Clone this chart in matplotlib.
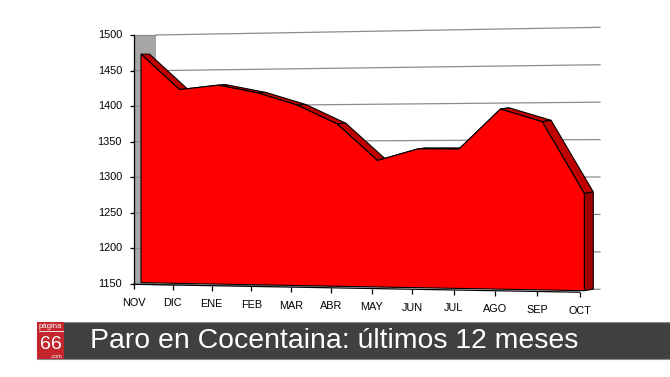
"""
plot.py

Monthly unemployment in Cocentaina over the last 12 months, drawn as an
Excel-style 3D area chart with a title banner underneath.
"""
import numpy as np
import matplotlib
matplotlib.use("Agg")
import matplotlib.pyplot as plt
import matplotlib.transforms as mtransforms
from matplotlib.patches import Polygon, Rectangle

MONTHS = ['NOV', 'DIC', 'ENE', 'FEB', 'MAR', 'ABR', 'MAY', 'JUN', 'JUL', 'AGO', 'SEP', 'OCT']
PARO = [1471, 1421, 1427, 1416, 1399, 1373, 1323, 1339, 1339, 1393, 1376, 1280]
Y_TICKS = [1150, 1200, 1250, 1300, 1350, 1400, 1450, 1500]
TITLE = "Paro en Cocentaina: últimos 12 meses"

Y_MIN, Y_MAX = Y_TICKS[0], Y_TICKS[-1]
N_LAST = len(MONTHS) - 1

# plane corners in pixels: bottom-left, bottom-right, top-left, top-right
FRONT_PLANE = [(141, 282.7), (584.3, 290.7), (141, 33.5), (584.3, 28.9)]
DEPTH = [(8.5, 0.0), (9.0, -1.5), (8.5, 0.0), (9.0, -1.5)]
WALL_PLANE = [(156, 284.5), (600, 289.3), (156, 35), (600, 27.3)]
SIDE_PLANE = [(134, 284), (156, 284.5), (134, 35), (156, 35)]
AXIS_PLANE = [(134, 284.3), (579.5, 292.2), (134, 35.1), (579.5, 30.4)]

FONT = ['Liberation Sans', 'DejaVu Sans']
RED = '#ff0000'
SHELF = '#c00000'
SIDE = '#a00000'


def fit_homography(src, dst):
    """Solve the 3x3 projective matrix mapping 4 src points onto 4 dst points."""
    A, b = [], []
    for (x, y), (u, v) in zip(src, dst):
        A.append([x, y, 1, 0, 0, 0, -u * x, -u * y])
        b.append(u)
        A.append([0, 0, 0, x, y, 1, -v * x, -v * y])
        b.append(v)
    h = np.linalg.solve(np.array(A, float), np.array(b, float))
    return np.append(h, 1.0).reshape(3, 3)


class PlaneTransform(mtransforms.Transform):
    """Perspective mapping of (category, value) onto a plane in pixel space."""
    input_dims = 2
    output_dims = 2

    def __init__(self, H):
        super().__init__()
        self.H = H

    def transform_non_affine(self, values):
        values = np.asarray(values, float)
        p = np.column_stack([values, np.ones(len(values))]) @ self.H.T
        return p[:, :2] / p[:, 2:]


def plane(ax, corners, x_span):
    src = [(0, Y_MIN), (x_span, Y_MIN), (0, Y_MAX), (x_span, Y_MAX)]
    return PlaneTransform(fit_homography(src, corners)) + ax.transData


def draw_walls(ax):
    side_tr = plane(ax, SIDE_PLANE, 1)
    wall_tr = plane(ax, WALL_PLANE, 1)
    ax.add_patch(Polygon([(0, Y_MIN), (1, Y_MIN), (1, Y_MAX), (0, Y_MAX)], closed=True,
                         facecolor='#a6a6a6', edgecolor='none', transform=side_tr,
                         zorder=0.5))
    for v in Y_TICKS:
        ax.plot([0, 1], [v, v], color='#8c8c8c', lw=0.9, transform=side_tr, zorder=0.6)
        ax.plot([0, 1], [v, v], color='#8c8c8c', lw=0.9, transform=wall_tr, zorder=0.6)


def draw_area(ax):
    front_tr = plane(ax, FRONT_PLANE, N_LAST)
    back_corners = [(x + dx, y + dy) for (x, y), (dx, dy) in zip(FRONT_PLANE, DEPTH)]
    back_tr = plane(ax, back_corners, N_LAST)
    idx = np.arange(len(PARO))

    # top surface strips, one per segment, then the right-hand side face
    for i in range(N_LAST):
        seg_x = [idx[i], idx[i + 1]]
        seg_y = [PARO[i], PARO[i + 1]]
        fr = front_tr.transform(np.column_stack([seg_x, seg_y]))
        bk = back_tr.transform(np.column_stack([seg_x, seg_y]))
        quad = np.vstack([fr, bk[::-1]])
        ax.add_patch(Polygon(quad, closed=True, facecolor=SHELF, edgecolor='black',
                             lw=0.8, transform=None, zorder=1))
    side_pts = np.column_stack([[N_LAST, N_LAST], [Y_MIN, PARO[-1]]])
    quad = np.vstack([front_tr.transform(side_pts), back_tr.transform(side_pts)[::-1]])
    ax.add_patch(Polygon(quad, closed=True, facecolor=SIDE, edgecolor='black',
                         lw=0.8, transform=None, zorder=1))

    verts = [(0, Y_MIN)] + list(zip(idx, PARO)) + [(N_LAST, Y_MIN)]
    ax.add_patch(Polygon(verts, closed=True, facecolor=RED, edgecolor='black',
                         lw=0.8, transform=front_tr, zorder=1.2))


def draw_axes(ax, fig):
    side_tr = plane(ax, SIDE_PLANE, 1)
    axis_tr = plane(ax, AXIS_PLANE, N_LAST)
    idx = np.arange(len(MONTHS))

    ax.plot([0, 0], [Y_MIN, Y_MAX], color='black', lw=0.9, transform=side_tr)
    ax.plot(np.zeros(len(Y_TICKS)), Y_TICKS, ls='none', marker=0, ms=2.6,
            mew=0.9, color='black', transform=side_tr)
    left = mtransforms.ScaledTranslation(-0.12, 0, fig.dpi_scale_trans)
    for v in Y_TICKS:
        ax.text(0, v, str(v), ha='right', va='center', fontsize=7.8,
                family=FONT, transform=side_tr + left)

    ax.plot([0, N_LAST], [Y_MIN, Y_MIN], color='black', lw=0.9, transform=axis_tr)
    ax.plot(idx, [Y_MIN] * len(idx), ls='none', marker=3, ms=3.8, mew=0.9,
            color='black', transform=axis_tr)
    down = mtransforms.ScaledTranslation(0, -0.185, fig.dpi_scale_trans)
    for i, m in zip(idx, MONTHS):
        ax.text(i, Y_MIN, m, ha='center', va='center', fontsize=7.8,
                family=FONT, transform=axis_tr + down)


def draw_banner(ax):
    ax.add_patch(Rectangle((37, 322), 640, 37, facecolor='#404040',
                           edgecolor='#8c8c8c', lw=0.8))
    ax.add_patch(Rectangle((37, 322), 27, 37, facecolor='#c4262e', edgecolor='none'))
    ax.text(50.5, 326.3, 'página', color='white', fontsize=5.6, ha='center',
            va='center', family=FONT)
    ax.plot([38.5, 62.5], [331.3, 331.3], color='white', lw=0.6)
    ax.text(50.5, 344.8, '66', color='white', fontsize=14, ha='center',
            va='center', family=FONT)
    ax.text(62, 356.6, '.com', color='white', fontsize=3.8, ha='right',
            va='center', family=FONT)
    ax.text(90, 340.5, TITLE, color='white', fontsize=20.4, ha='left',
            va='center', family=FONT)


def main():
    fig = plt.figure(figsize=(6.70, 3.77), dpi=100)
    ax = fig.add_axes([0, 0, 1, 1])
    ax.set_xlim(0, 670)
    ax.set_ylim(377, 0)
    ax.axis('off')

    draw_walls(ax)
    draw_area(ax)
    draw_axes(ax, fig)
    draw_banner(ax)

    fig.savefig("out.png", dpi=100)
    plt.close(fig)


if __name__ == "__main__":
    main()
